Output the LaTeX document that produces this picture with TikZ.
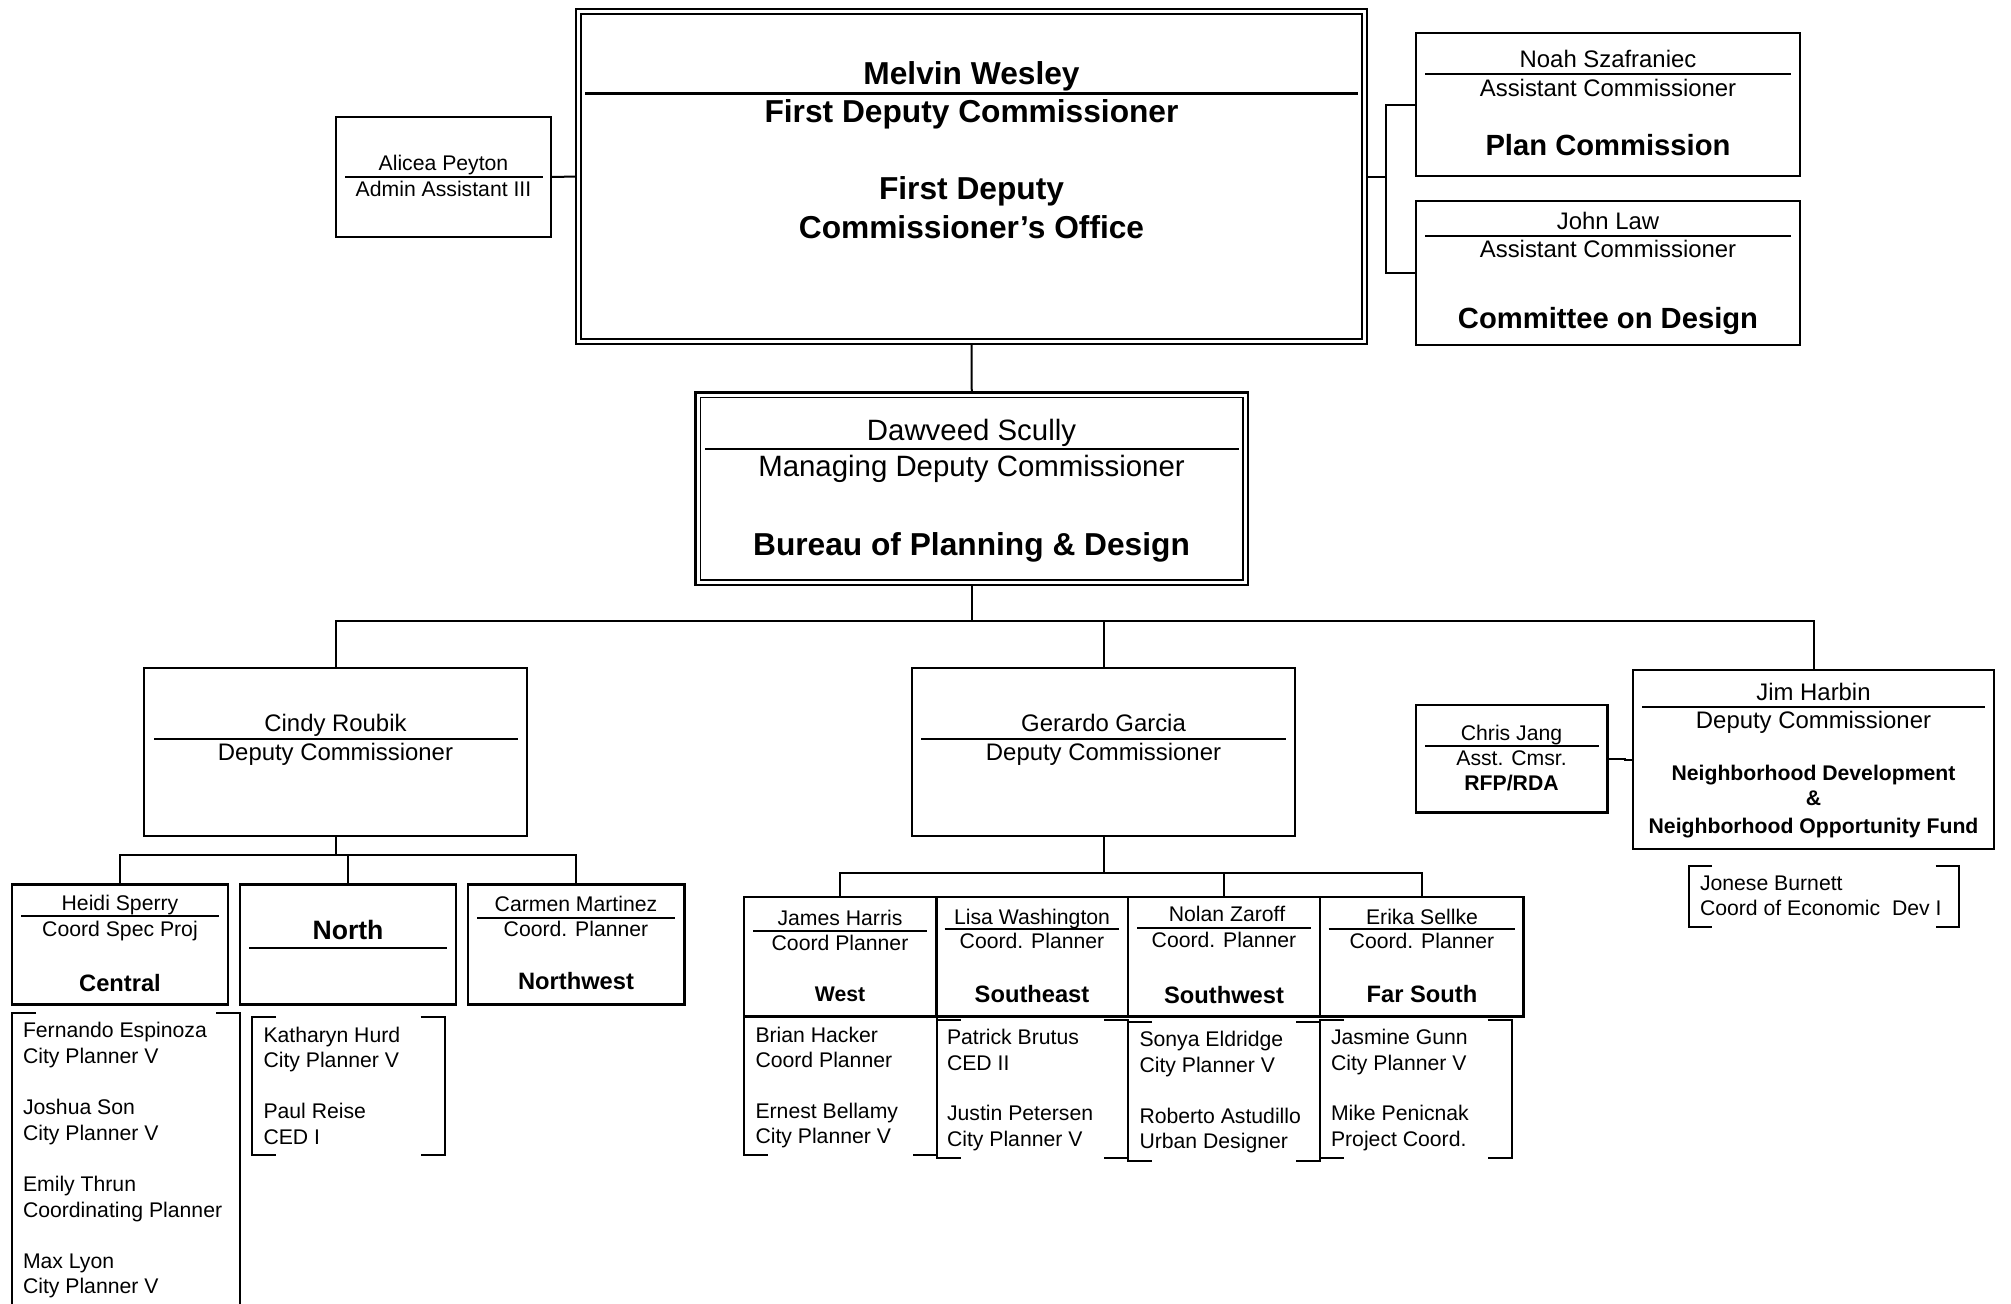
\documentclass[tikz,border=0pt]{standalone}
\usepackage{fontspec}
\setmainfont{Liberation Sans}
\newcommand\fsS{\fontsize{10.6}{12}\selectfont}
\newcommand\fsM{\fontsize{11.95}{14}\selectfont}
\newcommand\fsL{\fontsize{14.7}{17}\selectfont}
\newcommand\fbS{\fontsize{10.6}{12}\selectfont\bfseries}
\newcommand\fbM{\fontsize{11.85}{14}\selectfont\bfseries}
\newcommand\fbN{\fontsize{13.3}{15}\selectfont\bfseries}
\newcommand\fbL{\fontsize{14.6}{17}\selectfont\bfseries}
\newcommand\fbX{\fontsize{15.85}{18}\selectfont\bfseries}
\newcommand\mkbox[6][]{%
  \pgfmathsetmacro\bxcx{(#3+#5)/2}%
  \pgfmathsetmacro\bxcy{(#4+#6)/2}%
  \pgfmathsetmacro\bxw{(#5-#3)/2}%
  \pgfmathsetmacro\bxh{(#6-#4)/2}%
  \node[bx,minimum width=\bxw pt,minimum height=\bxh pt,#1] (#2) at (\bxcx,\bxcy) {};}
\newcommand\brk[5]{%
  \draw[ln] ({#1+#5},#2) -- (#1,#2) -- (#1,#4) -- ({#1+#5},#4);
  \draw[ln] ({#3-#5},#2) -- (#3,#2) -- (#3,#4) -- ({#3-#5},#4);}
\newcommand\sepline[3]{\draw[sepl] (#2,#1) -- (#3,#1);}
\tikzset{
  bx/.style={draw, rectangle, line width=1.05pt, inner sep=0pt, outer sep=0pt},
  ln/.style={line width=1pt},
  sepl/.style={line width=1pt},
  tx/.style={inner sep=0pt, outer sep=0pt, anchor=base},
  lt/.style={inner sep=0pt, outer sep=0pt, anchor=base west, font=\fsS},
}
\begin{document}
\begin{tikzpicture}[x=0.5pt,y=-0.5pt]
\fill[white] (0,0) rectangle (2011,1303);
\useasboundingbox (0,0) rectangle (2011,1303);

% ---------- boxes ----------
\mkbox[line width=1.4pt]{fdc}{576}{9}{1367}{344}
\draw[line width=0.8pt] (581,14) rectangle (1362,339);
\mkbox{alicea}{336}{117}{551}{237}
\mkbox{noah}{1416}{33}{1800}{176}
\mkbox{john}{1416}{201}{1800}{345}
\mkbox[line width=1.3pt]{dawveed}{695.5}{392.5}{1248}{585}
\draw[line width=0.8pt] (700.5,397.5) rectangle (1243,580);
\mkbox{cindy}{144}{668}{527}{836}
\mkbox{gerardo}{912}{668}{1295}{836}
\mkbox{chris}{1416}{705}{1607.5}{812.5}
\mkbox{jim}{1633}{670}{1994}{849}
\mkbox{heidi}{12}{884.5}{228}{1004.5}
\mkbox{nbox}{240}{884.5}{456}{1004.5}
\mkbox{carmen}{468}{884.5}{684.5}{1004.5}
\mkbox{west}{744}{897}{936.5}{1016.5}
\mkbox{se}{936.5}{897}{1128}{1016.5}
\mkbox{sw}{1128}{897}{1320}{1016.5}
\mkbox{fs}{1320}{897}{1523.5}{1016.5}

% ---------- separators ----------
\draw[line width=1.2pt] (585,93.5) -- (1358,93.5);
\sepline{177}{345}{543}
\sepline{74.3}{1425}{1791}
\sepline{236}{1425}{1791}
\sepline{449}{705}{1239}
\sepline{739}{154}{518}
\sepline{739}{921}{1286}
\sepline{746}{1425}{1599}
\sepline{706.7}{1642}{1985}
\sepline{916}{21}{219}
\sepline{948}{249}{446.5}
\sepline{917.7}{477}{675}
\sepline{931}{753}{926.5}
\sepline{929.3}{944.5}{1119}
\sepline{928}{1137}{1311}
\sepline{929}{1328.5}{1515}

% ---------- connectors ----------
\coordinate (rj) at (1386,176.5);
\coordinate (bus) at (0,621);
\coordinate (cbus) at (0,855);
\coordinate (gbus) at (0,873);
\draw[ln] (alicea.east) -- (fdc.west);
\draw[ln] (fdc.east) -- (rj);
\draw[ln] (noah.west) -| (rj |- john.west) -- (john.west);
\draw[ln] (fdc.south) -- (dawveed.north);
\draw[ln] (dawveed.south) -- (dawveed.south |- bus);
\draw[ln] (cindy.north) |- (jim.north |- bus) -- (jim.north);
\draw[ln] (gerardo.north) -- (gerardo.north |- bus);
\draw[ln] (chris.east) -- ++(17,0) |- (jim.west);
\draw[ln] (cindy.south) -- (cindy.south |- cbus);
\draw[ln] (heidi.north) |- (carmen.north |- cbus) -- (carmen.north);
\draw[ln] (nbox.north) -- (nbox.north |- cbus);
\draw[ln] (gerardo.south) -- (gerardo.south |- gbus);
\draw[ln] (west.north) |- (fs.north |- gbus) -- (fs.north);
\draw[ln] (sw.north) -- (sw.north |- gbus);

% ---------- brackets ----------
\brk{12}{1013}{240}{1320}{24}
\brk{252}{1017}{444.5}{1155}{24}
\brk{744}{1016.5}{936.5}{1155}{24}
\brk{936.5}{1019.5}{1128}{1158}{24}
\brk{1128}{1022}{1320}{1161}{24}
\brk{1320}{1020}{1511.5}{1158}{24}
\brk{1689}{866}{1958.5}{927}{23}

% ---------- texts ----------
\node[tx,font=\fbX] (t1) at (971.5,84) {Melvin Wesley};
\node[tx,font=\fbX] (t2) at (971.5,122.7) {First Deputy Commissioner};
\node[tx,font=\fbX] (t3) at (971.5,199) {First Deputy};
\node[tx,font=\fbX] (t4) at (971.5,238.5) {Commissioner’s Office};

\node[tx,font=\fsS] (t5) at (443.5,170.5) {Alicea Peyton};
\node[tx,font=\fsS] (t6) at (443.5,196.5) {Admin Assistant III};

\node[tx,font=\fsM] (t7) at (1608,67.7) {Noah Szafraniec};
\node[tx,font=\fsM] (t8) at (1608,96) {Assistant Commissioner};
\node[tx,font=\fbL] (t9) at (1608,155.7) {Plan Commission};
\node[tx,font=\fsM] (t10) at (1608,229.3) {John Law};
\node[tx,font=\fsM] (t11) at (1608,257.3) {Assistant Commissioner};
\node[tx,font=\fbL] (t12) at (1608,328.3) {Committee on Design};

\node[tx,font=\fsL] (t13) at (971.5,440) {Dawveed Scully};
\node[tx,font=\fsL] (t14) at (971.5,476.7) {Managing Deputy Commissioner};
\node[tx,font=\fbX] (t15) at (971.5,555) {Bureau of Planning \& Design};

\node[tx,font=\fsM] (t16) at (335.5,731.5) {Cindy Roubik};
\node[tx,font=\fsM] (t17) at (335.5,760) {Deputy Commissioner};
\node[tx,font=\fsM] (t18) at (1103.5,731.5) {Gerardo Garcia};
\node[tx,font=\fsM] (t19) at (1103.5,760) {Deputy Commissioner};

\node[tx,font=\fsS] (t20) at (1511.5,740) {Chris Jang};
\node[tx,font=\fsS] (t21) at (1511.5,765) {Asst. Cmsr.};
\node[tx,font=\fbS] (t22) at (1511.5,790.7) {RFP/RDA};

\node[tx,font=\fsM] (t23) at (1813.5,700) {Jim Harbin};
\node[tx,font=\fsM] (t24) at (1813.5,728.3) {Deputy Commissioner};
\node[tx,font=\fbS] (t25) at (1813.5,780) {Neighborhood Development};
\node[tx,font=\fbS] (t26) at (1813.5,805.3) {\&};
\node[tx,font=\fbS] (t27) at (1813.5,833.3) {Neighborhood Opportunity Fund};

\node[lt] (t28) at (1700,890.7) {Jonese Burnett};
\node[lt] (t29) at (1700,915.7) {Coord of Economic\ \ Dev I};

\node[tx,font=\fsS] (t30) at (120,910) {Heidi Sperry};
\node[tx,font=\fsS] (t31) at (120,936.7) {Coord Spec Proj};
\node[tx,font=\fbM] (t32) at (120,991.7) {Central};
\node[tx,font=\fbN] (t33) at (348,939.3) {North};
\node[tx,font=\fsS] (t34) at (576,911.7) {Carmen Martinez};
\node[tx,font=\fsS] (t35) at (576,936.2) {Coord. Planner};
\node[tx,font=\fbM] (t36) at (576,989.5) {Northwest};

\node[tx,font=\fsS] (t37) at (840,925) {James Harris};
\node[tx,font=\fsS] (t38) at (840,950.7) {Coord Planner};
\node[tx,font=\fbS] (t39) at (840,1001.7) {West};
\node[tx,font=\fsS] (t40) at (1032,924) {Lisa Washington};
\node[tx,font=\fsS] (t41) at (1032,948.3) {Coord. Planner};
\node[tx,font=\fbM] (t42) at (1032,1002.7) {Southeast};
\node[tx,font=\fsS] (t43) at (1227,921.7) {Nolan Zaroff};
\node[tx,font=\fsS] (t44) at (1224,947.3) {Coord. Planner};
\node[tx,font=\fbM] (t45) at (1224,1003.3) {Southwest};
\node[tx,font=\fsS] (t46) at (1422,924) {Erika Sellke};
\node[tx,font=\fsS] (t47) at (1422,948.3) {Coord. Planner};
\node[tx,font=\fbM] (t48) at (1422,1002.7) {Far South};

% lists
\node[lt] (c1) at (23,1037) {Fernando Espinoza};
\node[lt] (c2) at (23,1063) {City Planner V};
\node[lt] (c3) at (23,1114) {Joshua Son};
\node[lt] (c4) at (23,1140) {City Planner V};
\node[lt] (c5) at (23,1191.5) {Emily Thrun};
\node[lt] (c6) at (23,1217) {Coordinating Planner};
\node[lt] (c7) at (23,1268) {Max Lyon};
\node[lt] (c8) at (23,1293.5) {City Planner V};

\node[lt] (n1) at (263.5,1042.7) {Katharyn Hurd};
\node[lt] (n2) at (263.5,1067.7) {City Planner V};
\node[lt] (n3) at (263.5,1118.3) {Paul Reise};
\node[lt] (n4) at (263.5,1144) {CED I};

\node[lt] (w1) at (755.5,1042.3) {Brian Hacker};
\node[lt] (w2) at (755.5,1067.3) {Coord Planner};
\node[lt] (w3) at (755.5,1118.3) {Ernest Bellamy};
\node[lt] (w4) at (755.5,1143.3) {City Planner V};

\node[lt] (e1) at (947,1044) {Patrick Brutus};
\node[lt] (e2) at (947,1070) {CED II};
\node[lt] (e3) at (947,1120) {Justin Petersen};
\node[lt] (e4) at (947,1146) {City Planner V};

\node[lt] (s1) at (1139.5,1046.7) {Sonya Eldridge};
\node[lt] (s2) at (1139.5,1072.7) {City Planner V};
\node[lt] (s3) at (1139.5,1123.3) {Roberto Astudillo};
\node[lt] (s4) at (1139.5,1148.3) {Urban Designer};

\node[lt] (f1) at (1331,1044.3) {Jasmine Gunn};
\node[lt] (f2) at (1331,1070) {City Planner V};
\node[lt] (f3) at (1331,1120.7) {Mike Penicnak};
\node[lt] (f4) at (1331,1146.7) {Project Coord.};
\end{tikzpicture}
\end{document}
